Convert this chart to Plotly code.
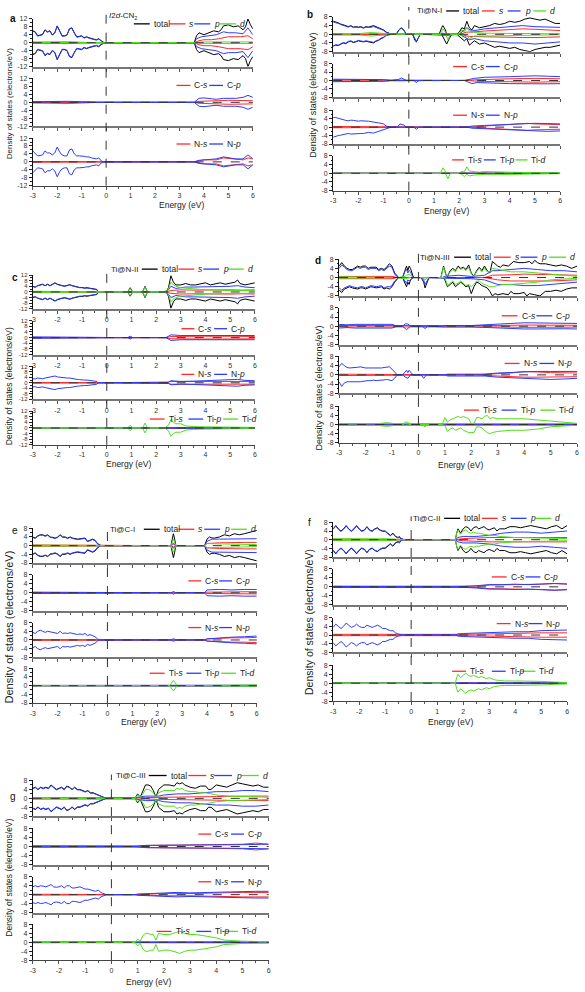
import plotly.graph_objects as go

W, H = 585, 992
BLACK, RED, BLUE, GREEN = "#000000", "#ff2a2a", "#2b3cff", "#4fe01a"
FONT = "Arial, Liberation Sans, sans-serif"

X_TICKS = [-3, -2, -1, 0, 1, 2, 3, 4, 5, 6]
Y_TICKS_8 = [8, 4, 0, -4, -8]
Y_TICKS_12 = [12, 8, 4, 0, -4, -8, -12]

# ---------------- panel a : I2d-CN2 (symmetric spin) ----------------
a_total = [(-3,6),(-2.9,5.5),(-2.8,3.5),(-2.7,3.8),(-2.6,4.2),(-2.5,6.5),(-2.4,5.5),(-2.3,6),(-2.2,4),(-2.1,5),(-2,8.5),(-1.9,6),(-1.8,3.5),(-1.7,3.5),(-1.6,4),(-1.5,7),(-1.4,7.5),(-1.3,5),(-1.2,3),(-1.1,3.2),(-1,3.5),(-0.9,2.5),(-0.8,3),(-0.7,2.5),(-0.6,2),(-0.5,1.8),(-0.4,1.5),(-0.3,2),(-0.2,1),(-0.1,0.2),(0,0),(3.6,0),(3.7,3.5),(3.8,5),(4,4),(4.2,5),(4.4,6),(4.6,5.5),(4.7,6.5),(4.8,8.5),(5,9),(5.2,8),(5.4,8.5),(5.5,7.5),(5.6,6.5),(5.7,8),(5.8,12),(5.9,9),(6,7)]
a_s = [(-3,0.3),(-2,0.5),(-1.5,0.4),(-1,0.2),(-0.1,0),(3.6,0),(3.8,1),(4,1.5),(4.3,1.5),(4.6,2),(4.8,2.5),(5,3),(5.3,3),(5.5,3),(5.8,3.5),(6,2)]
a_p = [(-3,5.8),(-2.9,5.3),(-2.8,3.3),(-2.7,3.6),(-2.6,4),(-2.5,6.3),(-2.4,5.3),(-2.3,5.8),(-2.2,3.8),(-2.1,4.8),(-2,8.3),(-1.9,5.8),(-1.8,3.3),(-1.7,3.3),(-1.6,3.8),(-1.5,6.8),(-1.4,7.3),(-1.3,4.8),(-1.2,2.8),(-1.1,3),(-1,3.3),(-0.9,2.3),(-0.8,2.8),(-0.7,2.3),(-0.6,1.8),(-0.5,1.6),(-0.4,1.3),(-0.3,1.8),(-0.2,0.8),(-0.1,0.1),(0,0),(3.6,0),(3.7,2),(3.9,3),(4.2,3.5),(4.5,4),(4.8,5.5),(5,5),(5.3,5),(5.6,4.5),(5.8,7.5),(6,4)]
a_d = [(-3,0.1),(-0.1,0),(3.6,0),(4,0.4),(5,0.5),(6,0.4)]
a_Cs = [(-3,0.1),(-0.1,0),(3.6,0),(3.8,0.5),(4.2,0.8),(4.6,0.8),(5,1),(5.5,0.8),(6,0.8)]
a_Cp = [(-3,0.3),(-2.5,0.4),(-2,0.5),(-1.5,0.5),(-1,0.3),(-0.1,0),(3.6,0),(3.8,2),(4,2.2),(4.2,1.8),(4.5,1.5),(4.8,2),(5,2),(5.3,2),(5.6,2.5),(5.8,3.5),(6,2.5)]
a_Ns = [(-3,0.2),(-0.1,0),(3.6,0),(3.8,0.5),(4,1),(4.3,1),(4.5,1),(4.8,2),(5,1.8),(5.3,1.2),(5.6,1),(5.8,2),(6,1.5)]
a_Np = [(-3,5.5),(-2.9,4),(-2.8,3),(-2.7,3.2),(-2.6,3.5),(-2.5,5.5),(-2.4,4.5),(-2.3,4.5),(-2.2,3.5),(-2.1,4.5),(-2,7.5),(-1.9,5),(-1.8,3.5),(-1.7,3),(-1.6,3),(-1.5,6),(-1.4,6.5),(-1.3,4),(-1.2,3),(-1.1,3),(-1,3),(-0.9,2.8),(-0.8,2.5),(-0.7,2.5),(-0.6,2),(-0.5,1.8),(-0.4,1.5),(-0.3,2),(-0.2,0.5),(-0.1,0),(3.6,0),(3.8,0.8),(4,1),(4.3,1.2),(4.5,1.5),(4.8,2.5),(5,2),(5.3,1.5),(5.6,1.5),(5.8,3.5),(6,1.5)]

# ---------------- panel b : Ti@N-I (spin polarised) ----------------
b_total_up = [(-3,6),(-2.9,5.7),(-2.8,5.3),(-2.7,4.7),(-2.6,4.5),(-2.5,4),(-2.4,3.5),(-2.3,4),(-2.2,3.3),(-2.1,3.5),(-2,3.3),(-1.9,3.5),(-1.8,3),(-1.7,3.5),(-1.6,3.3),(-1.5,3.5),(-1.4,4),(-1.3,3.5),(-1.2,3),(-1.1,2.3),(-1,2),(-0.9,1),(-0.8,0.5),(-0.7,0.1),(-0.5,0),(-0.4,2),(-0.3,3),(-0.2,2),(-0.1,0),(1.2,0),(1.3,3),(1.35,4),(1.45,2),(1.5,0),(1.9,0),(2,1),(2.1,3),(2.2,2.5),(2.3,6),(2.4,3),(2.5,2),(2.6,4),(2.8,3),(3,3.5),(3.2,4),(3.4,5),(3.6,4.5),(3.8,5),(4,6),(4.2,5.5),(4.4,6),(4.6,7),(4.8,7.5),(5,7),(5.2,6.5),(5.4,7),(5.6,6),(5.8,5),(6,5)]
b_total_dn = [(-3,-5.5),(-2.9,-5),(-2.8,-5.2),(-2.7,-4.5),(-2.6,-4),(-2.5,-4.3),(-2.4,-3.5),(-2.3,-3.2),(-2.2,-3.8),(-2.1,-3.5),(-2,-3),(-1.9,-3.3),(-1.8,-3.5),(-1.7,-3.2),(-1.6,-3.5),(-1.5,-3.8),(-1.4,-4),(-1.3,-3.2),(-1.2,-2.8),(-1.1,-2),(-1,-1.5),(-0.9,-0.5),(-0.8,-0.2),(-0.7,0),(0.15,0),(0.25,-3),(0.3,-3.5),(0.4,-1.5),(0.45,0),(1.3,0),(1.4,-2),(1.5,-4.5),(1.6,-2),(1.7,0),(1.9,0),(2,-1),(2.1,-2),(2.2,-3),(2.3,-2),(2.4,-5),(2.5,-4),(2.6,-3),(2.8,-4.5),(3,-4),(3.2,-5),(3.4,-6),(3.6,-5.5),(3.8,-6),(4,-6.5),(4.2,-6),(4.4,-7),(4.6,-7.5),(4.8,-8),(5,-7),(5.2,-6.5),(5.4,-6),(5.6,-6),(5.8,-5.5),(6,-5)]
b_s_up = [(-3,0.2),(-1,0.1),(-0.5,0),(2,0),(2.3,1),(2.5,1),(3,1.5),(3.5,1.8),(4,2),(4.5,2.5),(5,2.3),(5.5,2),(6,1.7)]
b_s_dn = [(-3,-0.2),(-1,-0.1),(-0.5,0),(2,0),(2.4,-1),(3,-1.2),(3.5,-1.3),(4,-1.5),(4.5,-1.5),(5,-1.5),(5.5,-1.3),(6,-1.2)]
b_p_up = [(-3,5.7),(-2.9,5.5),(-2.8,5),(-2.7,4.5),(-2.6,4.2),(-2.5,3.8),(-2.4,3.3),(-2.3,3.8),(-2.2,3.1),(-2.1,3.3),(-2,3.1),(-1.9,3.3),(-1.8,2.8),(-1.7,3.3),(-1.6,3.1),(-1.5,3.2),(-1.4,3.6),(-1.3,3.2),(-1.2,2.8),(-1.1,2.1),(-1,1.8),(-0.9,0.9),(-0.8,0.4),(-0.7,0.1),(-0.5,0),(-0.4,1.8),(-0.3,2.8),(-0.2,1.8),(-0.1,0),(1.2,0),(1.35,0.5),(1.5,0),(2,0),(2.3,3),(2.5,1.5),(2.7,2),(3,2.5),(3.5,3),(4,3.5),(4.5,4),(5,3.5),(5.5,3.5),(6,3.2)]
b_p_dn = [(-3,-5.3),(-2.9,-4.8),(-2.8,-5),(-2.7,-4.3),(-2.6,-3.8),(-2.5,-4.1),(-2.4,-3.3),(-2.3,-3),(-2.2,-3.6),(-2.1,-3.3),(-2,-2.8),(-1.9,-3.1),(-1.8,-3.3),(-1.7,-3),(-1.6,-3.3),(-1.5,-3.5),(-1.4,-3.7),(-1.3,-3),(-1.2,-2.6),(-1.1,-1.8),(-1,-1.3),(-0.9,-0.4),(-0.8,-0.1),(-0.7,0),(0.15,0),(0.3,-3.2),(0.45,0),(1.5,-0.5),(2,0),(2.4,-2.5),(2.6,-2),(3,-3),(3.5,-3.5),(4,-4),(4.5,-4),(5,-4.5),(5.5,-4),(6,-3.5)]
b_d_up = [(-3,0.3),(-2,0.3),(-1.5,0.8),(-1,0.3),(-0.5,0),(-0.3,0.3),(-0.1,0),(1.25,0),(1.35,2.5),(1.45,1),(1.5,0),(2,0),(2.1,2),(2.2,1),(2.3,3),(2.4,1.5),(2.6,0.8),(3,0.5),(4,0.5),(5,0.3),(6,0.2)]
b_d_dn = [(-3,-0.3),(-2,-0.3),(-1.5,-0.8),(-1,-0.3),(-0.5,0),(1.45,0),(1.55,-2.5),(1.65,0),(2,0),(2.2,-1.5),(2.3,-0.5),(2.4,-2),(2.6,-0.8),(3,-0.8),(4,-0.5),(5,-0.3),(6,-0.2)]
b_Cs_up = [(-3,0.3),(-1,0.2),(-0.5,0),(2.4,0),(2.6,0.3),(3,0.5),(4,0.8),(5,1),(6,0.8)]
b_Cs_dn = [(-3,-0.3),(-1,-0.2),(-0.5,0),(2.4,0),(2.6,-0.3),(3,-0.5),(4,-0.6),(5,-0.8),(6,-0.6)]
b_Cp_up = [(-3,0.6),(-2.5,0.5),(-2,0.5),(-1.5,0.6),(-1,0.4),(-0.7,0),(-0.4,0.5),(-0.3,1.2),(-0.2,0.5),(-0.1,0),(2.2,0),(2.4,0.5),(2.6,1),(3,1.5),(3.5,1.5),(4,1.8),(4.5,2),(5,2.2),(5.5,2),(6,1.8)]
b_Cp_dn = [(-3,-0.6),(-2.5,-0.5),(-2,-0.5),(-1.5,-0.6),(-1,-0.4),(-0.7,0),(0.2,0),(0.3,-1),(0.4,0),(2.2,0),(2.5,-1.5),(2.7,-1),(3,-1.2),(3.5,-1.3),(4,-1.5),(4.5,-1.6),(5,-1.8),(5.5,-1.6),(6,-1.5)]
b_Ns_up = [(-3,0.3),(-1,0.2),(-0.5,0),(2.5,0),(3,0.5),(3.5,0.8),(4,1.2),(4.7,1.8),(5,1.5),(5.5,1.3),(6,1.2)]
b_Ns_dn = [(-3,-0.3),(-1,-0.2),(-0.5,0),(2.5,0),(3,-0.5),(3.5,-0.8),(4,-1),(4.7,-1.5),(5,-1.3),(6,-1)]
b_Np_up = [(-3,4.5),(-2.9,4.6),(-2.8,4.2),(-2.7,3.8),(-2.6,3.5),(-2.5,3.2),(-2.4,3),(-2.3,3.3),(-2.2,3.2),(-2.1,2.9),(-2,2.8),(-1.9,3),(-1.8,3),(-1.7,2.7),(-1.6,2.8),(-1.5,2.6),(-1.4,2.5),(-1.3,2.4),(-1.2,2),(-1.1,1.8),(-1,1.5),(-0.9,0.5),(-0.8,0.1),(-0.7,0),(-0.45,0),(-0.35,1.5),(-0.2,1),(-0.1,0),(2.3,0),(2.5,0.5),(3,0.8),(3.5,1),(4,1.3),(4.5,1.7),(5,1.8),(5.5,1.7),(6,1.5)]
b_Np_dn = [(-3,-4.8),(-2.9,-4.3),(-2.8,-4),(-2.7,-3.8),(-2.6,-3.5),(-2.5,-3.2),(-2.4,-3),(-2.3,-3.3),(-2.2,-3.2),(-2.1,-2.9),(-2,-2.8),(-1.9,-3),(-1.8,-3),(-1.7,-2.6),(-1.6,-2.5),(-1.5,-2.7),(-1.4,-2.8),(-1.3,-2.4),(-1.2,-2),(-1.1,-1.5),(-1,-1),(-0.9,-0.5),(-0.8,-0.2),(-0.7,0),(0.2,0),(0.3,-1),(0.4,0),(2.3,0),(2.5,-0.5),(3,-0.8),(3.5,-1),(4,-1.3),(4.5,-1.6),(5,-1.8),(5.5,-2),(6,-1.8)]
b_Tis = [(-3,0.1),(2,0.1),(3,0.2),(6,0.1)]
b_Tip = [(-3,0.1),(1.3,0.1),(2.3,0.3),(3,0.2),(6,0.1)]
b_Tid_up = [(-3,0.1),(-1,0.1),(1.25,0),(1.35,2.5),(1.45,1),(1.5,0),(2,0),(2.1,1),(2.2,0.5),(2.3,3),(2.4,1),(2.6,0.8),(2.8,0.5),(3,0.8),(3.5,0.8),(4,0.5),(5,0.3),(6,0.2)]
b_Tid_dn = [(-3,-0.1),(-1,-0.1),(0.2,0),(0.3,-0.3),(0.4,0),(1.45,0),(1.55,-2.5),(1.65,0),(2,0),(2.1,-0.5),(2.2,-1.5),(2.3,-0.5),(2.4,-1.2),(2.6,-0.8),(3,-0.5),(3.5,-0.6),(4,-0.5),(5,-0.3),(6,-0.2)]

# ---------------- panel c : Ti@N-II (symmetric) ----------------
c_total = [(-3,4),(-2.9,3.5),(-2.8,4.5),(-2.7,5),(-2.6,5.5),(-2.5,4.5),(-2.4,5.5),(-2.3,4.5),(-2.2,5.5),(-2.1,6.5),(-2,5.5),(-1.9,4.8),(-1.8,4.5),(-1.7,4.2),(-1.6,4.8),(-1.5,5.2),(-1.4,4.5),(-1.3,4),(-1.2,3.5),(-1.1,3.2),(-1,3.2),(-0.9,2.8),(-0.8,3),(-0.7,2.7),(-0.6,2.5),(-0.5,2.6),(-0.4,1.8),(-0.35,0),(0.85,0),(0.95,3),(1.05,0),(1.45,0),(1.55,4),(1.65,0),(2.35,0),(2.45,1.5),(2.5,3),(2.6,11.5),(2.7,7),(2.8,5),(3,5),(3.2,6),(3.4,5),(3.6,5),(3.8,6),(4,6.5),(4.2,5),(4.4,5.5),(4.6,6.5),(4.8,5.5),(5,6),(5.2,7),(5.3,8.5),(5.4,6),(5.6,5),(5.8,6),(6,6.5)]
c_s = [(-3,0.3),(-0.4,0.2),(-0.35,0),(2.4,0),(2.6,1),(3,1.5),(3.5,1.3),(4,1.5),(4.5,1.3),(5,1.5),(5.5,1.3),(6,1.5)]
c_p = [(-3,3.8),(-2.9,3.3),(-2.8,4.3),(-2.7,4.8),(-2.6,5.3),(-2.5,4.3),(-2.4,5.3),(-2.3,4.3),(-2.2,5.3),(-2.1,6.3),(-2,5.3),(-1.9,4.6),(-1.8,4.3),(-1.7,4),(-1.6,4.6),(-1.5,5),(-1.4,4.3),(-1.3,3.8),(-1.2,3.3),(-1.1,3),(-1,3),(-0.9,2.6),(-0.8,2.8),(-0.7,2.5),(-0.6,2.3),(-0.5,2.4),(-0.4,1.6),(-0.35,0),(0.85,0),(0.95,0.5),(1.05,0),(2.4,0),(2.5,1.5),(2.6,4),(2.8,2.5),(3,3),(3.2,3.5),(3.5,3.5),(4,3.5),(4.5,3.5),(5,4),(5.3,4.5),(5.6,3.5),(6,3)]
c_d = [(-3,0.5),(-2,0.5),(-1,0.4),(-0.4,0.3),(-0.35,0),(0.85,0),(0.95,2.5),(1.05,0),(1.45,0),(1.55,3.5),(1.65,0),(2.35,0),(2.5,2),(2.6,7),(2.7,5),(2.8,4),(3,3),(3.5,2),(4,1.5),(5,1),(6,1)]
c_Cs = [(-3,0.2),(-0.35,0),(2.4,0),(2.6,0.8),(3,1),(4,1),(5,1),(6,0.8)]
c_Cp = [(-3,0.5),(-2,0.5),(-1,0.4),(-0.35,0),(0.85,0),(0.95,1),(1.05,0),(2.4,0),(2.5,1),(2.6,2),(3,1.5),(3.5,1.5),(4,1.5),(4.5,1.6),(5,1.8),(5.5,1.6),(6,1.5)]
c_Ns = [(-3,0.2),(-0.35,0),(2.4,0),(2.6,1),(3,1),(4,1),(5,1.2),(6,1)]
c_Np = [(-3,3),(-2.9,2.8),(-2.8,3.5),(-2.7,3.2),(-2.6,3),(-2.5,3.5),(-2.4,4),(-2.3,4.3),(-2.2,4.5),(-2.1,5),(-2,4.3),(-1.9,4),(-1.8,4),(-1.7,3.8),(-1.6,3.5),(-1.5,3.5),(-1.4,3),(-1.3,3),(-1.2,2.5),(-1.1,2.3),(-1,2),(-0.9,2),(-0.8,2),(-0.7,1.8),(-0.6,1.5),(-0.5,1.3),(-0.4,1),(-0.35,0),(0.85,0),(0.95,0.5),(1.05,0),(2.4,0),(2.5,0.5),(2.6,1.5),(3,1),(3.5,1.2),(4,1.5),(4.5,1.5),(5,2),(5.3,2.5),(5.6,1.8),(6,1.5)]
c_Tis = [(-3,0.1),(2.5,0.1),(3,0.3),(6,0.2)]
c_Tip = [(-3,0.1),(2.5,0.2),(3,0.3),(6,0.2)]
c_Tid = [(-3,0.2),(-0.5,0.3),(-0.4,0.5),(-0.35,0),(0.85,0),(0.95,2),(1.05,0),(1.45,0),(1.55,3.5),(1.65,0),(2.35,0),(2.5,2),(2.6,6),(2.7,4),(2.8,3),(3,3),(3.2,1.5),(3.5,1),(4,0.8),(4.5,0.7),(5,0.6),(5.5,0.5),(6,0.4)]

# ---------------- panel d : Ti@N-III (spin polarised) ----------------
d_total_up = [(-3,5),(-2.9,6.5),(-2.8,5),(-2.7,4),(-2.6,3.5),(-2.5,3.5),(-2.4,4.2),(-2.3,5),(-2.2,4.5),(-2.1,5),(-2,5),(-1.9,4),(-1.8,4.5),(-1.7,4.6),(-1.6,4.5),(-1.5,3.5),(-1.4,4),(-1.3,3.5),(-1.2,4.5),(-1.1,6),(-1,5),(-0.9,2),(-0.8,0.5),(-0.75,0),(-0.6,0),(-0.5,4),(-0.45,5),(-0.4,3),(-0.35,5),(-0.3,4),(-0.2,0.5),(-0.15,0),(0.85,0),(0.95,5),(1.05,1),(1.1,0.5),(1.2,3),(1.3,4),(1.4,3),(1.5,5),(1.6,4),(1.7,4.5),(1.8,3.5),(1.9,5.5),(2,2),(2.1,0.5),(2.2,3),(2.3,4.5),(2.4,3),(2.5,5),(2.6,3),(2.7,2),(2.8,7),(2.9,6),(3,5),(3.1,4.5),(3.2,5.5),(3.4,5),(3.5,6),(3.6,7),(3.8,6.5),(4,6.5),(4.2,7),(4.3,6),(4.4,7.5),(4.5,6.5),(4.6,6),(4.8,6),(5,5.5),(5.2,5),(5.4,5.5),(5.6,5),(5.8,4),(6,5)]
d_total_dn = [(-3,-5.5),(-2.9,-6.5),(-2.8,-5),(-2.7,-4.5),(-2.6,-4),(-2.5,-4.5),(-2.4,-4.8),(-2.3,-5),(-2.2,-4.5),(-2.1,-4.5),(-2,-5),(-1.9,-4.5),(-1.8,-4),(-1.7,-4.2),(-1.6,-4.5),(-1.5,-4.3),(-1.4,-4),(-1.3,-5),(-1.2,-4.5),(-1.1,-5),(-1,-4),(-0.9,-2),(-0.8,-0.5),(-0.75,0),(-0.6,0),(-0.5,-3),(-0.45,-4),(-0.4,-2),(-0.35,-3),(-0.3,-1),(-0.2,0),(0.1,0),(0.2,-2),(0.25,-4.5),(0.3,-3),(0.4,0),(0.95,0),(1,-1),(1.1,-4),(1.2,-3),(1.3,-2),(1.4,-4),(1.5,-3),(1.6,-2),(1.7,-3),(1.8,-4),(1.9,-3.5),(2,-7),(2.1,-4),(2.2,-2),(2.3,-2.5),(2.4,-3.5),(2.5,-4),(2.6,-4.5),(2.7,-6),(2.8,-8),(2.9,-7),(3,-7.5),(3.2,-7),(3.4,-7.5),(3.5,-6),(3.6,-7),(3.8,-7),(4,-6.5),(4.1,-8),(4.2,-7),(4.4,-7.5),(4.6,-8),(4.8,-6),(5,-6),(5.2,-5.5),(5.4,-6),(5.6,-5),(5.8,-4.5),(6,-4.5)]
d_s_up = [(-3,0.5),(-2,0.5),(-1,0.5),(-0.8,0),(2.5,0),(2.8,1),(3,1),(3.5,1.2),(4,1.5),(5,1.2),(6,1)]
d_s_dn = [(-3,-0.5),(-2,-0.5),(-1,-0.5),(-0.8,0),(2.5,0),(3,-1),(3.5,-1.5),(4,-1.5),(5,-1.5),(6,-1)]
d_p_up = [(-3,4),(-2.9,5.5),(-2.8,4.5),(-2.7,3.5),(-2.6,3),(-2.5,3),(-2.4,3.8),(-2.3,4.5),(-2.2,4),(-2.1,4.5),(-2,4.5),(-1.9,3.5),(-1.8,4),(-1.7,4.1),(-1.6,4),(-1.5,3),(-1.4,3.5),(-1.3,3),(-1.2,4),(-1.1,5),(-1,4.5),(-0.9,1.5),(-0.8,0.3),(-0.75,0),(-0.6,0),(-0.5,3),(-0.45,3.5),(-0.4,2),(-0.35,3),(-0.3,2.5),(-0.2,0),(0.9,0),(1,0.5),(1.5,1),(2,0.5),(2.5,1),(2.8,3),(3,3),(3.5,3.5),(4,4),(4.5,3.5),(5,3),(5.5,3),(6,2.5)]
d_p_dn = [(-3,-4.5),(-2.9,-5.5),(-2.8,-4.5),(-2.7,-4),(-2.6,-3.5),(-2.5,-4),(-2.4,-4.3),(-2.3,-4.5),(-2.2,-4),(-2.1,-4),(-2,-4.5),(-1.9,-4),(-1.8,-3.5),(-1.7,-3.7),(-1.6,-4),(-1.5,-3.8),(-1.4,-3.5),(-1.3,-4.5),(-1.2,-4),(-1.1,-4),(-1,-3.5),(-0.9,-1.5),(-0.8,-0.3),(-0.75,0),(-0.6,0),(-0.5,-2),(-0.45,-2.5),(-0.4,-1),(-0.35,-1.5),(-0.2,0),(0.1,0),(0.2,-1),(0.25,-3),(0.3,-2),(0.4,0),(1,-0.3),(2,-0.5),(2.5,-1),(2.8,-2),(3,-3),(3.5,-3),(4,-3.5),(4.5,-3.5),(5,-3),(5.5,-2.5),(6,-2)]
d_d_up = [(-3,0.3),(-1,0.3),(-0.8,0),(-0.5,0.5),(-0.45,1),(-0.35,1.5),(-0.2,0),(0.85,0),(0.95,4.5),(1.05,0.5),(1.2,2.5),(1.3,3.5),(1.4,2.5),(1.5,4.5),(1.6,3.5),(1.7,4),(1.8,3),(1.9,4.5),(2,1.5),(2.1,0.5),(2.2,2.5),(2.3,4),(2.4,2.5),(2.5,4),(2.6,2.5),(2.7,2.5),(2.8,4),(3,3.5),(3.2,3),(3.5,2.5),(4,2.5),(4.5,2),(5,1.5),(5.5,1),(6,0.5)]
d_d_dn = [(-3,-0.3),(-1,-0.3),(-0.8,0),(-0.5,-0.5),(-0.3,0),(0.15,0),(0.25,-1),(0.35,0),(1,0),(1.1,-3.5),(1.2,-2.5),(1.3,-1.5),(1.4,-3),(1.5,-2.5),(1.6,-1.5),(1.7,-2.5),(1.8,-3.5),(1.9,-3),(2,-4),(2.1,-3),(2.2,-1.5),(2.3,-1.5),(2.4,-2.5),(2.5,-3),(2.6,-3.5),(2.7,-4),(2.8,-4),(3,-3.5),(3.2,-3),(3.5,-3),(4,-2.5),(4.5,-2),(5,-1),(5.5,-0.5),(6,-0.3)]
d_Cs = [(-3,0.3),(-1,0.3),(-0.8,0),(2,0),(3,0.3),(4,0.5),(5,0.5),(6,0.4)]
d_Cp_up = [(-3,0.8),(-2.7,0.6),(-2.4,0.8),(-2,0.7),(-1.6,0.6),(-1.3,0.8),(-1,0.8),(-0.8,0),(-0.6,0),(-0.5,1),(-0.4,1),(-0.3,0),(0.9,0),(1,0.3),(2,0.3),(2.5,0.5),(3,1),(3.5,1.2),(4,1.5),(4.5,1.5),(5,1.5),(5.5,1.3),(6,1.2)]
d_Cp_dn = [(-3,-0.8),(-2.7,-0.6),(-2.4,-0.8),(-2,-0.7),(-1.6,-0.6),(-1.3,-0.8),(-1,-0.8),(-0.8,0),(-0.6,0),(-0.5,-1),(-0.45,-1.5),(-0.35,-0.5),(-0.3,0),(0.15,0),(0.25,-1),(0.35,0),(1,-0.3),(2,-0.3),(2.5,-0.5),(3,-1),(3.5,-1),(4,-1.2),(4.5,-1.2),(5,-1),(5.5,-1.1),(6,-1.2)]
d_Ns_up = [(-3,0.3),(-1,0.3),(-0.8,0),(2,0),(3,0.5),(3.5,0.8),(4,1.5),(4.5,1.2),(5,1),(6,0.8)]
d_Ns_dn = [(-3,-0.3),(-1,-0.3),(-0.8,0),(2,0),(3,-0.5),(3.5,-0.8),(4,-1),(4.5,-1),(5,-1),(6,-0.8)]
d_Np_up = [(-3,3.5),(-2.9,5),(-2.8,4),(-2.7,3.2),(-2.6,3),(-2.5,3),(-2.4,3),(-2.3,3.3),(-2.2,3.5),(-2.1,3.2),(-2,3),(-1.9,3),(-1.8,3),(-1.7,2.8),(-1.6,3),(-1.5,3),(-1.4,3),(-1.3,3.2),(-1.2,3.5),(-1.1,3.5),(-1,2.5),(-0.9,1),(-0.8,0),(-0.6,0),(-0.5,1.5),(-0.45,2),(-0.4,1),(-0.35,2),(-0.25,0.5),(-0.2,0),(1,0),(1.1,0.3),(2,0.3),(2.5,0.3),(3,0.8),(3.5,1),(4,1.5),(4.5,1.5),(5,1.5),(5.5,1.5),(6,1.5)]
d_Np_dn = [(-3,-3),(-2.9,-5),(-2.8,-3.5),(-2.7,-3),(-2.6,-3),(-2.5,-3),(-2.4,-3),(-2.3,-3.2),(-2.2,-3),(-2.1,-2.8),(-2,-2.5),(-1.9,-2.5),(-1.8,-2.5),(-1.7,-2.3),(-1.6,-2.5),(-1.5,-2.5),(-1.4,-2.3),(-1.3,-2.2),(-1.2,-2),(-1.1,-2.3),(-1,-2.5),(-0.9,-1.5),(-0.8,0),(-0.6,0),(-0.5,-1),(-0.4,-1.5),(-0.3,0),(0.1,0),(0.2,-1.5),(0.3,0),(1,0),(1.1,-0.5),(2,-0.3),(2.5,-0.5),(3,-1),(3.5,-1.2),(4,-1.5),(4.5,-1.8),(5,-2),(5.5,-1.8),(6,-1.5)]
d_Tis = [(-3,0.1),(6,0.1)]
d_Tip = [(-3,0.2),(1,0.2),(2,0.4),(3,0.3),(6,0.2)]
d_Tid_up = [(-3,0.3),(-2,0.5),(-1.5,0.4),(-1.2,0.8),(-1,0.5),(-0.8,0),(-0.6,0),(-0.5,1),(-0.4,1),(-0.3,0),(0.9,0),(1,3),(1.1,1),(1.2,2),(1.3,2.5),(1.4,3),(1.5,3.5),(1.6,3),(1.7,3.5),(1.8,3),(1.9,2.5),(2,0.5),(2.1,0.5),(2.2,3),(2.3,3),(2.4,2.5),(2.5,3.5),(2.6,4),(2.7,2.5),(2.8,3),(3,2.5),(3.5,2.5),(4,2.5),(4.5,2),(5,1.5),(5.5,1),(6,0.5)]
d_Tid_dn = [(-3,-0.3),(-2,-0.5),(-1.5,-0.4),(-1.2,-0.8),(-1,-0.5),(-0.8,0),(-0.6,0),(-0.5,-0.5),(-0.3,0),(0.15,0),(0.25,-1),(0.35,0),(0.9,0),(1,-0.5),(1.1,-3),(1.2,-2),(1.3,-1.5),(1.4,-2.5),(1.5,-2),(1.6,-1.5),(1.7,-2.5),(1.8,-3),(1.9,-3.5),(2,-3.5),(2.1,-3.5),(2.2,-1),(2.3,-1),(2.4,-1.5),(2.5,-2.5),(2.6,-3.5),(2.7,-4),(2.8,-3.5),(3,-3),(3.5,-2.5),(4,-2.5),(4.5,-2),(5,-1),(5.5,-0.5),(6,-0.3)]

# ---------------- panel e : Ti@C-I (symmetric) ----------------
e_total = [(-3,4),(-2.9,3.5),(-2.8,4.5),(-2.7,5),(-2.6,5),(-2.5,4.5),(-2.4,5),(-2.3,4),(-2.2,3.8),(-2.1,3.5),(-2,4),(-1.9,5),(-1.8,4),(-1.7,4),(-1.6,3.5),(-1.5,4),(-1.4,3.5),(-1.3,3.2),(-1.2,3),(-1.1,3.2),(-1,3.5),(-0.9,3.5),(-0.8,2),(-0.7,2.5),(-0.6,3),(-0.5,2.5),(-0.4,1),(-0.3,0.3),(-0.25,0),(2.55,0),(2.6,3),(2.65,5.5),(2.7,3),(2.75,0),(3.9,0),(4,3),(4.1,4),(4.2,3.5),(4.3,3.5),(4.5,4),(4.7,5),(4.9,4.5),(5.1,5.5),(5.3,5),(5.5,5.5),(5.7,6),(5.9,6.5),(6,7)]
e_s = [(-3,0.3),(-1,0.3),(-0.25,0),(2.55,0),(2.65,0.6),(2.75,0),(3.9,0),(4,1),(4.5,1.3),(5,1.5),(5.5,1.5),(6,1.5)]
e_p = [(-3,3.8),(-2.9,3.3),(-2.8,4.3),(-2.7,4.8),(-2.6,4.8),(-2.5,4.3),(-2.4,4.8),(-2.3,3.8),(-2.2,3.6),(-2.1,3.3),(-2,3.8),(-1.9,4.8),(-1.8,3.8),(-1.7,3.8),(-1.6,3.3),(-1.5,3.8),(-1.4,3.3),(-1.3,3),(-1.2,2.8),(-1.1,3),(-1,3.3),(-0.9,3.3),(-0.8,1.8),(-0.7,2.3),(-0.6,2.8),(-0.5,2.3),(-0.4,0.8),(-0.3,0.2),(-0.25,0),(2.55,0),(2.65,1.2),(2.75,0),(3.9,0),(4,2),(4.2,3),(4.5,3),(5,3),(5.5,3),(6,3.2)]
e_d = [(-3,0.2),(-0.25,0),(2.55,0),(2.65,3),(2.75,0),(3.9,0),(4,1),(4.5,0.8),(5,0.8),(6,0.5)]
e_Cs = [(-3,0.1),(-0.25,0),(3.9,0),(4,0.3),(5,0.5),(6,0.5)]
e_Cp = [(-3,0.3),(-2,0.3),(-1,0.3),(-0.25,0),(2.55,0),(2.65,0.6),(2.75,0),(3.9,0),(4,1.3),(4.5,1.5),(5,1.3),(5.5,1.5),(6,1.5)]
e_Ns = [(-3,0.2),(-0.25,0),(3.9,0),(4,0.5),(4.5,0.8),(5,1),(5.5,1),(6,1.2)]
e_Np = [(-3,3.5),(-2.9,3),(-2.8,4),(-2.7,4.5),(-2.6,4),(-2.5,3.5),(-2.4,4),(-2.3,3.8),(-2.2,3.5),(-2.1,3.2),(-2,3),(-1.9,4),(-1.8,3),(-1.7,3.2),(-1.6,3),(-1.5,3.3),(-1.4,3),(-1.3,2.8),(-1.2,2.5),(-1.1,2.8),(-1,2.5),(-0.9,3),(-0.8,2),(-0.7,2.5),(-0.6,2),(-0.5,1.5),(-0.4,0.5),(-0.3,0),(2.55,0),(2.65,0.6),(2.75,0),(3.9,0),(4,0.5),(4.5,1),(5,1.3),(5.5,1.5),(6,1.8)]
e_Tis = [(-3,0.1),(6,0.1)]
e_Tip = [(-3,0.1),(6,0.2)]
e_Tid = [(-3,0.1),(2.5,0),(2.65,2.5),(2.8,0),(4,0.1),(6,0.3)]

# ---------------- panel f : Ti@C-II (symmetric) ----------------
f_total = [(-3,5),(-2.9,6.5),(-2.8,5),(-2.7,4),(-2.6,5),(-2.5,6.5),(-2.4,5),(-2.3,4),(-2.2,5),(-2.1,6.5),(-2,5),(-1.9,4),(-1.8,4.5),(-1.7,6),(-1.6,4.5),(-1.5,4),(-1.4,5),(-1.3,5.5),(-1.2,4.5),(-1.1,4),(-1,4),(-0.9,3),(-0.8,2),(-0.7,3),(-0.6,1.5),(-0.5,1),(-0.45,1.5),(-0.4,0.3),(-0.35,0.5),(-0.3,0),(1.7,0),(1.75,3),(1.8,5),(1.9,3),(2,5),(2.1,6),(2.2,5.5),(2.3,4),(2.4,5.5),(2.5,6),(2.6,5),(2.7,5.5),(2.8,6),(2.9,5),(3,4.5),(3.1,5),(3.2,5.5),(3.3,4),(3.4,5),(3.6,5),(3.8,6),(4,6),(4.2,5.5),(4.4,6),(4.6,6.5),(4.8,6),(5,5.5),(5.2,5),(5.4,6),(5.6,6.5),(5.8,5),(6,6.5)]
f_s = [(-3,0.3),(-1,0.3),(-0.3,0),(1.7,0),(2,0.5),(2.5,0.8),(3,1),(3.5,1),(4,1),(5,1),(6,1)]
f_p = [(-3,4.8),(-2.9,6.3),(-2.8,4.8),(-2.7,3.8),(-2.6,4.8),(-2.5,6.3),(-2.4,4.8),(-2.3,3.8),(-2.2,4.8),(-2.1,6.3),(-2,4.8),(-1.9,3.8),(-1.8,4.3),(-1.7,5.8),(-1.6,4.3),(-1.5,3.8),(-1.4,4.8),(-1.3,5.3),(-1.2,4.3),(-1.1,3.8),(-1,3.8),(-0.9,2.8),(-0.8,1.8),(-0.7,2.8),(-0.6,1.3),(-0.5,0.8),(-0.45,1.3),(-0.4,0.2),(-0.35,0.4),(-0.3,0),(1.7,0),(1.8,1),(2,1.5),(2.5,1.5),(3,2),(3.5,3),(4,3.5),(4.5,3.5),(5,3),(5.5,3.5),(6,4)]
f_d = [(-3,0.4),(-1,0.4),(-0.3,0),(1.7,0),(1.75,3),(1.8,4.5),(1.9,2.5),(2,4),(2.1,4.5),(2.2,3.5),(2.3,3),(2.4,3.5),(2.5,3),(2.6,3),(2.8,2.5),(3,2),(3.2,2),(3.4,1.5),(4,1),(5,0.8),(6,0.5)]
f_Cs = [(-3,0.3),(-1,0.3),(-0.3,0),(1.7,0),(2.5,0.3),(3,0.8),(3.5,1),(4,1),(5,1.2),(5.5,1.5),(6,1.2)]
f_Cp = [(-3,0.2),(-0.3,0),(1.7,0),(2.5,0.5),(3,1),(3.5,1),(4,1.2),(4.5,1),(5,1.2),(5.5,1.5),(6,1.3)]
f_Ns = [(-3,0.3),(-1,0.3),(-0.3,0),(1.7,0),(2,0.3),(3,0.5),(4,0.8),(5,1),(6,1)]
f_Np = [(-3,3.5),(-2.9,5),(-2.8,4),(-2.7,3),(-2.6,4),(-2.5,5.5),(-2.4,4.5),(-2.3,3.5),(-2.2,4),(-2.1,5),(-2,4),(-1.9,3.5),(-1.8,3.5),(-1.7,4.5),(-1.6,4),(-1.5,3.5),(-1.4,4),(-1.3,4.5),(-1.2,4),(-1.1,3),(-1,3),(-0.9,2.5),(-0.8,2),(-0.7,2),(-0.6,1),(-0.5,0.5),(-0.4,0.3),(-0.3,0),(1.7,0),(1.8,0.5),(2,0.7),(2.5,0.8),(3,1),(3.5,1.3),(4,1.5),(4.5,1.5),(5,2),(5.5,2),(6,2.3)]
f_Tis = [(-3,0.1),(6,0.1)]
f_Tip = [(-3,0.1),(1.7,0.1),(2,0.3),(6,0.2)]
f_Tid = [(-3,0.2),(-0.3,0),(1.7,0),(1.75,2.5),(1.8,4),(1.9,2.5),(2,3.5),(2.1,4.5),(2.2,3.5),(2.3,3),(2.4,3.5),(2.5,3),(2.6,2.5),(2.7,3),(2.8,2.5),(2.9,2),(3,2.5),(3.2,1.5),(3.4,1.2),(3.6,1),(4,1),(4.5,1),(5,0.8),(5.5,0.5),(6,0.3)]

# ---------------- panel g : Ti@C-III (symmetric) ----------------
g_total = [(-3,4.5),(-2.9,5),(-2.8,4),(-2.7,5),(-2.6,4.5),(-2.5,5),(-2.4,4.5),(-2.3,6),(-2.2,5),(-2.1,4),(-2,4.5),(-1.9,5),(-1.8,4),(-1.7,5.5),(-1.6,5),(-1.5,4),(-1.4,5),(-1.3,4),(-1.2,4),(-1.1,3.5),(-1,3),(-0.9,3.5),(-0.8,2.5),(-0.7,2.5),(-0.6,2),(-0.5,1.5),(-0.4,1),(-0.3,0.5),(-0.2,0),(0.9,0),(1,2),(1.1,0.5),(1.2,3),(1.3,6),(1.4,6),(1.5,5.5),(1.6,3.5),(1.7,0.5),(1.8,4),(1.9,5),(2,6),(2.2,6),(2.4,5.5),(2.5,7),(2.6,6.5),(2.7,7),(2.8,6),(3,5),(3.2,4.5),(3.4,5.5),(3.6,5.5),(3.7,4),(3.8,4),(4,6),(4.2,5.5),(4.4,5),(4.6,6),(4.8,7),(5,6.5),(5.2,6),(5.4,5.5),(5.6,6),(5.8,5),(6,5)]
g_s = [(-3,0.3),(-1,0.3),(-0.2,0),(0.9,0),(1.3,0.3),(2,0.5),(3,0.5),(4,0.8),(5,1),(6,1)]
g_p = [(-3,4.3),(-2.9,4.8),(-2.8,3.8),(-2.7,4.8),(-2.6,4.3),(-2.5,4.8),(-2.4,4.3),(-2.3,5.8),(-2.2,4.8),(-2.1,3.8),(-2,4.3),(-1.9,4.8),(-1.8,3.8),(-1.7,5.3),(-1.6,4.8),(-1.5,3.8),(-1.4,4.8),(-1.3,3.8),(-1.2,3.8),(-1.1,3.3),(-1,2.8),(-0.9,3.3),(-0.8,2.3),(-0.7,2.3),(-0.6,1.8),(-0.5,1.3),(-0.4,0.8),(-0.3,0.4),(-0.2,0),(0.9,0),(1,0.5),(1.3,1),(1.5,1),(1.8,1),(2,1.5),(2.5,2),(3,2),(3.5,2.5),(4,3),(4.5,3),(5,3.5),(5.5,3.5),(6,3)]
g_d = [(-3,0.3),(-1,0.3),(-0.2,0),(0.9,0),(1,1.5),(1.1,0.5),(1.2,2),(1.3,4),(1.4,4),(1.5,3.5),(1.6,2.5),(1.7,0.5),(1.8,2.5),(1.9,3),(2,3.5),(2.2,3.5),(2.4,3.5),(2.5,4.5),(2.6,4),(2.7,4.5),(2.8,3.5),(3,3),(3.2,3),(3.4,2.5),(3.6,2.5),(3.8,2),(4,1.5),(4.5,1),(5,0.8),(6,0.5)]
g_Cs = [(-3,0.3),(-1,0.3),(-0.2,0),(0.9,0),(1,0.3),(1.5,0.5),(2,0.5),(3,0.8),(4,0.8),(5,1),(5.5,1.5),(6,1)]
g_Cp = [(-3,0.2),(-0.2,0),(0.9,0),(1.3,0.5),(2,0.5),(3,0.5),(4,0.8),(5,0.8),(6,1)]
g_Ns = [(-3,0.2),(-0.2,0),(0.9,0),(1.5,0.3),(2,0.5),(3,0.5),(4,0.8),(5,1),(6,1)]
g_Np = [(-3,3.5),(-2.9,4),(-2.8,3.5),(-2.7,4),(-2.6,3.8),(-2.5,3.5),(-2.4,4),(-2.3,4.5),(-2.2,3.5),(-2.1,3.3),(-2,3.5),(-1.9,4),(-1.8,3),(-1.7,4),(-1.6,4),(-1.5,3),(-1.4,3),(-1.3,3.2),(-1.2,3.5),(-1.1,3),(-1,2.5),(-0.9,2.5),(-0.8,2),(-0.7,1.8),(-0.6,1.5),(-0.5,2),(-0.4,1),(-0.3,0.5),(-0.2,0),(0.9,0),(1,0.3),(1.5,0.5),(2,0.8),(2.5,1),(3,0.8),(3.5,1),(4,1),(4.5,1.3),(5,1.5),(5.5,1.5),(6,1.5)]
g_Tis = [(-3,0.1),(6,0.1)]
g_Tip = [(-3,0.1),(6,0.2)]
g_Tid = [(-3,0.2),(-0.2,0),(0.9,0),(1,1.5),(1.1,0.5),(1.2,3),(1.3,4),(1.4,4),(1.5,3.5),(1.6,3.5),(1.7,1),(1.8,4),(2,3.5),(2.2,3.5),(2.4,4),(2.5,4.5),(2.6,5),(2.7,4.5),(2.8,4),(3,3.5),(3.2,3.5),(3.5,3),(3.8,2.5),(4,2),(4.3,1),(4.5,0.8),(5,0.5),(6,0.3)]

S, P, D = "<i>s</i>", "<i>p</i>", "<i>d</i>"
TOP_LABELS = ["total", S, P, D]
C_LABELS = ["C-" + S, "C-" + P]
N_LABELS = ["N-" + S, "N-" + P]
TI_LABELS = ["Ti-" + S, "Ti-" + P, "Ti-" + D]


def top(t, s, p, d):
    return [(t, BLACK), (s, RED), (p, BLUE), (d, GREEN)]


PANELS = [
    dict(letter="a", bold=True, title="<i>I</i>2<i>d</i>-CN<sub>2</sub>", tx=105, ty=12, tanchor="left",
         x=(30, 252), ymax=12, all_xl=False,
         subs=[(15, 63), (75, 123), (135, 183)], vtop=6,
         rows=[top((a_total, None), (a_s, None), (a_p, None), (a_d, None)),
               [((a_Cs, None), RED), ((a_Cp, None), BLUE)],
               [((a_Ns, None), RED), ((a_Np, None), BLUE)]],
         legends=[(20, [132, 168, 193, 219], 16, TOP_LABELS),
                  (82, [175, 208], 14, C_LABELS),
                  (141, [175, 208], 14, N_LABELS)],
         lx=10, ly=15, ytx=6, yty=100, yts=8, ex=181, ey=202),
    dict(letter="b", bold=True, title="Ti@N-I", tx=445, ty=7, tanchor="right",
         x=(333, 562), ymax=8, all_xl=False,
         subs=[(13, 48), (60, 94), (107, 141), (153, 188)], vtop=3,
         rows=[top((b_total_up, b_total_dn), (b_s_up, b_s_dn), (b_p_up, b_p_dn), (b_d_up, b_d_dn)),
               [((b_Cs_up, b_Cs_dn), RED), ((b_Cp_up, b_Cp_dn), BLUE)],
               [((b_Ns_up, b_Ns_dn), RED), ((b_Np_up, b_Np_dn), BLUE)],
               [((b_Tis, None), RED), ((b_Tip, None), BLUE), ((b_Tid_up, b_Tid_dn), GREEN)]],
         legends=[(7, [447, 483, 509, 535], 13, TOP_LABELS),
                  (63, [454, 487], 14, C_LABELS),
                  (112, [454, 487], 14, N_LABELS),
                  (157, [453, 485, 517], 12, TI_LABELS)],
         lx=310, ly=11, ytx=313, yty=92, yts=9, ex=448, ey=208),
    dict(letter="c", bold=True, title="Ti@N-II", tx=138, ty=267, tanchor="right",
         x=(30, 254), ymax=12, all_xl=True,
         subs=[(273, 307), (319, 353), (365, 398), (410, 444)], vtop=268,
         rows=[top((c_total, None), (c_s, None), (c_p, None), (c_d, None)),
               [((c_Cs, None), RED), ((c_Cp, None), BLUE)],
               [((c_Ns, None), RED), ((c_Np, None), BLUE)],
               [((c_Tis, None), RED), ((c_Tip, None), BLUE), ((c_Tid, None), GREEN)]],
         legends=[(267, [140, 177, 202, 227], 16, TOP_LABELS),
                  (327, [180, 213], 13, C_LABELS),
                  (373, [180, 213], 13, N_LABELS),
                  (418, [148, 187, 222], 15, TI_LABELS)],
         lx=12, ly=275, ytx=6, yty=385, yts=8.5, ex=127, ey=463),
    dict(letter="d", bold=True, title="Ti@N-III", tx=453, ty=255, tanchor="right",
         x=(339, 579), ymax=8, all_xl=False,
         subs=[(257, 294), (306, 343), (355, 392), (405, 442)], vtop=250,
         rows=[top((d_total_up, d_total_dn), (d_s_up, d_s_dn), (d_p_up, d_p_dn), (d_d_up, d_d_dn)),
               [((d_Cs, None), RED), ((d_Cp_up, d_Cp_dn), BLUE)],
               [((d_Ns_up, d_Ns_dn), RED), ((d_Np_up, d_Np_dn), BLUE)],
               [((d_Tis, None), RED), ((d_Tip, None), BLUE), ((d_Tid_up, d_Tid_dn), GREEN)]],
         legends=[(255, [455, 495, 522, 551], 17, TOP_LABELS),
                  (314, [503, 538], 16, C_LABELS),
                  (362, [506, 541], 15, N_LABELS),
                  (409, [465, 503, 542], 15, TI_LABELS)],
         lx=318, ly=258, ytx=319, yty=387, yts=9, ex=462, ey=464),
    dict(letter="e", bold=False, title="Ti@C-I", tx=135, ty=529, tanchor="right",
         x=(30, 256), ymax=8, all_xl=False,
         subs=[(528, 563), (575, 611), (623, 658), (669, 704)], vtop=525,
         rows=[top((e_total, None), (e_s, None), (e_p, None), (e_d, None)),
               [((e_Cs, None), RED), ((e_Cp, None), BLUE)],
               [((e_Ns, None), RED), ((e_Np, None), BLUE)],
               [((e_Tis, None), RED), ((e_Tip, None), BLUE), ((e_Tid, None), GREEN)]],
         legends=[(529, [142, 177, 203, 230], 16, TOP_LABELS),
                  (581, [187, 218], 13, C_LABELS),
                  (628, [187, 218], 13, N_LABELS),
                  (674, [148, 185, 220], 15, TI_LABELS)],
         lx=12, ly=530, ytx=6, yty=627, yts=11, ex=142, ey=723),
    dict(letter="f", bold=False, title="Ti@C-II", tx=443, ty=518, tanchor="right",
         x=(333, 569), ymax=8, all_xl=False,
         subs=[(522, 557), (569, 605), (618, 653), (666, 702)], vtop=516,
         rows=[top((f_total, None), (f_s, None), (f_p, None), (f_d, None)),
               [((f_Cs, None), RED), ((f_Cp, None), BLUE)],
               [((f_Ns, None), RED), ((f_Np, None), BLUE)],
               [((f_Tis, None), RED), ((f_Tip, None), BLUE), ((f_Tid, None), GREEN)]],
         legends=[(518, [445, 483, 512, 537], 16, TOP_LABELS),
                  (577, [493, 527], 15, C_LABELS),
                  (624, [498, 530], 14, N_LABELS),
                  (672, [453, 493, 523], 14, TI_LABELS)],
         lx=309, ly=522, ytx=308, yty=622, yts=10.5, ex=452, ey=723),
    dict(letter="g", bold=False, title="Ti@C-III", tx=146, ty=777, tanchor="right",
         x=(30, 268), ymax=8, all_xl=False,
         subs=[(782, 818), (830, 867), (879, 915), (927, 963)], vtop=776,
         rows=[top((g_total, None), (g_s, None), (g_p, None), (g_d, None)),
               [((g_Cs, None), RED), ((g_Cp, None), BLUE)],
               [((g_Ns, None), RED), ((g_Np, None), BLUE)],
               [((g_Tis, None), RED), ((g_Tip, None), BLUE), ((g_Tid, None), GREEN)]],
         legends=[(777, [147, 187, 213, 240], 18, TOP_LABELS),
                  (836, [197, 230], 13, C_LABELS),
                  (884, [197, 230], 13, N_LABELS),
                  (934, [155, 195, 222], 15, TI_LABELS)],
         lx=10, ly=798, ytx=6, yty=880, yts=8.5, ex=147, ey=985),
]


def fx(p):
    return p / W


def fy(p):
    return 1 - p / H


fig = go.Figure()
layout = dict(width=W, height=H, margin=dict(l=0, r=0, t=0, b=0), autosize=False,
              paper_bgcolor="white", plot_bgcolor="white", showlegend=False,
              font=dict(family=FONT, color="#222"))
shapes, annotations = [], []
n = 0
for pan in PANELS:
    ymax = pan["ymax"]
    yt = Y_TICKS_12 if ymax == 12 else Y_TICKS_8
    nsub = len(pan["subs"])
    first_n = n + 1
    for i, ((t, b), row) in enumerate(zip(pan["subs"], pan["rows"])):
        n += 1
        xk = "x" if n == 1 else f"x{n}"
        yk = "y" if n == 1 else f"y{n}"
        last = i == nsub - 1
        show_xl = pan["all_xl"] or last
        layout["xaxis" if n == 1 else f"xaxis{n}"] = dict(
            domain=[fx(pan["x"][0]), fx(pan["x"][1])], anchor=yk, range=[-3, 6],
            tickmode="array", tickvals=X_TICKS, ticktext=[str(v) for v in X_TICKS],
            showticklabels=show_xl, tickfont=dict(size=7, color="#333"),
            ticks="outside", ticklen=3, tickwidth=1, tickcolor="#555",
            minor=dict(tickmode="linear", tick0=-3, dtick=0.5, ticks="outside", ticklen=2, tickcolor="#555"),
            showline=True, linecolor="#777" if not last else "#444", linewidth=2 if not last else 1.2,
            showgrid=False, zeroline=False, fixedrange=True)
        layout["yaxis" if n == 1 else f"yaxis{n}"] = dict(
            domain=[fy(b), fy(t)], anchor=xk, range=[-ymax, ymax],
            tickmode="array", tickvals=yt, ticktext=[str(v) for v in yt],
            tickfont=dict(size=6 if pan["all_xl"] else 7, color="#333"),
            ticks="outside", ticklen=3, tickwidth=1, tickcolor="#222",
            minor=dict(tickmode="linear", tick0=0, dtick=2, ticks="outside", ticklen=1.5, tickcolor="#222"),
            showline=True, linecolor="#111", linewidth=1,
            showgrid=False, zeroline=False, fixedrange=True)
        for (up, dn), col in row:
            xs = [e for e, _ in up] + [None] + [e for e, _ in (dn if dn else up)]
            ys = [v for _, v in up] + [None] + ([v for _, v in dn] if dn else [-v for _, v in up])
            fig.add_trace(go.Scatter(x=xs, y=ys, xaxis=xk, yaxis=yk, mode="lines",
                                     line=dict(color=col, width=1.0),
                                     hoverinfo="skip", showlegend=False))
        shapes.append(dict(type="line", xref=f"{xk} domain", yref=yk, x0=0, x1=1, y0=0, y1=0,
                           line=dict(color="#333", width=1, dash="dash"), layer="above"))
    fxk = "x" if first_n == 1 else f"x{first_n}"
    shapes.append(dict(type="line", xref=fxk, yref="paper", x0=0, x1=0,
                       y0=fy(pan["subs"][-1][1]), y1=fy(pan["vtop"]),
                       line=dict(color="#333", width=1, dash="dash"), layer="above"))
    for ly, starts, L, labels in pan["legends"]:
        cols = [BLACK, RED, BLUE, GREEN] if len(labels) == 4 else (
            [RED, BLUE] if len(labels) == 2 else [RED, BLUE, GREEN])
        for x0, lab, col in zip(starts, labels, cols):
            shapes.append(dict(type="line", xref="paper", yref="paper", x0=fx(x0), x1=fx(x0 + L),
                               y0=fy(ly), y1=fy(ly), line=dict(color=col, width=1.3)))
            annotations.append(dict(xref="paper", yref="paper", x=fx(x0 + L + 2), y=fy(ly),
                                    xanchor="left", yanchor="middle", showarrow=False, text=lab,
                                    font=dict(size=8.5, color="#222", family=FONT)))
    annotations.append(dict(xref="paper", yref="paper", x=fx(pan["tx"]), y=fy(pan["ty"]),
                            xanchor=pan["tanchor"], yanchor="middle", showarrow=False, text=pan["title"],
                            font=dict(size=8, color="#222", family=FONT)))
    annotations.append(dict(xref="paper", yref="paper", x=fx(pan["lx"]), y=fy(pan["ly"]),
                            xanchor="center", yanchor="middle", showarrow=False,
                            text=f"<b>{pan['letter']}</b>" if pan["bold"] else pan["letter"],
                            font=dict(size=10, color="#111", family=FONT)))
    annotations.append(dict(xref="paper", yref="paper", x=fx(pan["ytx"]), y=fy(pan["yty"]),
                            xanchor="center", yanchor="middle", showarrow=False, textangle=-90,
                            text="Density of states (electrons/eV)",
                            font=dict(size=pan["yts"], color="#222", family=FONT)))
    annotations.append(dict(xref="paper", yref="paper", x=fx(pan["ex"]), y=fy(pan["ey"]),
                            xanchor="center", yanchor="middle", showarrow=False,
                            text="Energy (eV)", font=dict(size=8.5, color="#222", family=FONT)))

layout["shapes"] = shapes
layout["annotations"] = annotations
fig.update_layout(**layout)
fig.write_html("out.html", config={"displayModeBar": False},
               post_script="document.body.style.margin='0';")
